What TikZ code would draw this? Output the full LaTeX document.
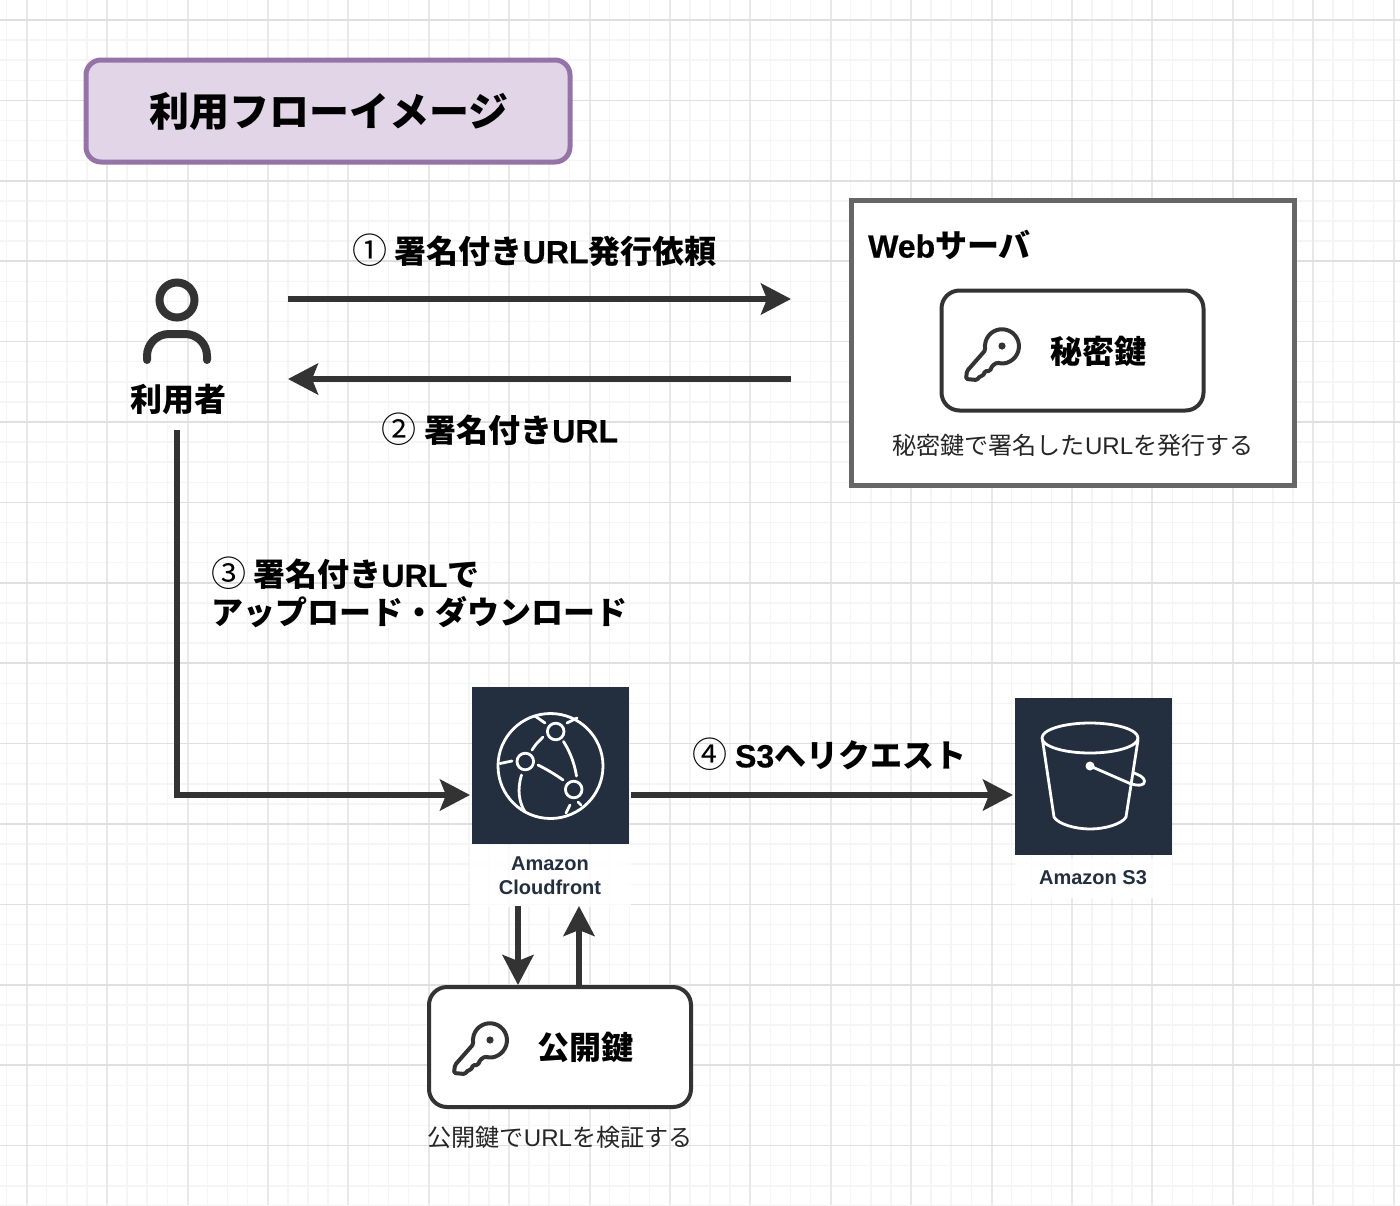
\documentclass[tikz,border=0pt]{standalone}
\usepackage{fontspec}
\setmainfont{Noto Sans CJK JP}
\newfontfamily\latinfont{Liberation Sans}
\newfontfamily\latinheavy[BoldFeatures={FakeBold=0.6}]{Liberation Sans}
\usetikzlibrary{arrows.meta}
\definecolor{lineblack}{HTML}{333333}
\definecolor{awsnavy}{HTML}{232F3E}
\definecolor{titlefill}{HTML}{E1D5E7}
\definecolor{titleline}{HTML}{9673A6}
\newcommand{\jpsize}[1]{\fontsize{#1}{#1}\selectfont}
\newcommand{\lat}[1]{{\latinheavy #1}}
\newcommand{\circnum}[1]{{\fontsize{35}{32}\selectfont\mdseries #1}}
\tikzset{
	flow/.style={draw=lineblack, line width=5.5pt, -{Stealth[length=30pt, width=31pt, inset=6pt]}},
	keybox/.style={draw=lineblack, line width=4pt, fill=white, rounded corners=18pt, minimum width=262pt, minimum height=120pt},
	bigtext/.style={font=\jpsize{32}\bfseries, text=black, inner sep=0pt},
	smalltext/.style={font=\jpsize{24.1}, text=black!85, inner sep=0pt},
	awstext/.style={font=\latinfont\jpsize{20}\bfseries, text=awsnavy, align=center, fill=white, fill opacity=0.85, text opacity=1, inner sep=0pt},
	iconline/.style={draw=white, line width=2.8pt, line cap=round, line join=round},
	keyicon/.pic={
		\begin{scope}[x=1pt, y=1pt, draw=lineblack, line width=4pt, line join=round]
			\draw[rounded corners=1.5pt] (-5,-16.5) arc[start angle=-107, end angle=193, radius=17pt] -- (-35,-25) -- (-36,-33) -- (-25,-34) -- (-22,-30) -- (-19,-30) -- (-17,-25) -- (-12,-25) -- (-10,-20) -- cycle;
			\fill[lineblack] (0,0) circle (3.6pt);
		\end{scope}
	},
}
\begin{document}
\begin{tikzpicture}[x=1pt, y=-1pt]
	\useasboundingbox (0,0) rectangle (1400,1205);
	\fill[white] (0,0) rectangle (1400,1205);
	% grid
	\foreach \i in {0,...,69} {
		\draw[draw=black!4, line width=1.5pt] ({6.5+20.1*\i},0) -- ({6.5+20.1*\i},1205);
	}
	\foreach \i in {0,...,59} {
		\draw[draw=black!4, line width=1.5pt] (0,{20+20.1*\i}) -- (1400,{20+20.1*\i});
	}
	\foreach \i in {0,...,17} {
		\draw[draw=black!9, line width=2pt] ({26.7+80.4*\i},0) -- ({26.7+80.4*\i},1205);
	}
	\foreach \i in {0,...,14} {
		\draw[draw=black!12, line width=1.6pt] (0,{20+80.4*\i}) -- (1400,{20+80.4*\i});
	}

	\node[draw=titleline, line width=5pt, fill=titlefill, rounded corners=15pt, minimum width=484pt, minimum height=102pt, inner sep=0pt] (title) at (328,111) {\hspace*{2pt}\jpsize{40}\bfseries 利用フローイメージ};

	% user
	\draw[draw=lineblack, line width=8pt] (177,300) circle (17.5pt);
	\draw[draw=lineblack, line width=8pt, line cap=round, rounded corners=22pt] (147,360) -- (147,334) -- (207,334) -- (207,360);
	\node[bigtext] (user) at (178,399) {利用者};

	% web server
	\node[draw=black!60, line width=5pt, fill=white, minimum width=443pt, minimum height=285pt] (webserver) at (1072.5,343) {};
	\node[bigtext, anchor=west] (webtitle) at (868,245) {\lat{Web}サーバ};
	\node[keybox] (secretbox) at (1072.5,350.5) {};
	\pic at (1002,346) {keyicon};
	\node[bigtext] (secretkey) at (1098,351) {秘密鍵};
	\node[smalltext] (secretnote) at (1073,445) {秘密鍵で署名した\lat{URL}を発行する};

	% cloudfront
	\node[draw=none, fill=awsnavy, minimum size=157pt, inner sep=0pt] (cloudfront) at (550.5,765.5) {};
	\node[awstext, minimum width=161pt, minimum height=62pt] (cloudfrontlabel) at (550,875.5) {Amazon\\[4pt]Cloudfront};
	\draw[iconline] (550.5,766) circle (52.5pt);
	\draw[iconline] (555.7,731.5) circle (8.3pt);
	\draw[iconline] (525.3,761.5) circle (8.3pt);
	\draw[iconline] (573.7,789.5) circle (8.3pt);
	\draw[iconline] (532,750) .. controls (536,744) .. (543,737);
	\draw[iconline] (563.5,741.5) .. controls (572,755) and (575,767) .. (576.5,776);
	\draw[iconline] (538,765) .. controls (548,770) and (556,775) .. (563,780);
	\draw[iconline] (500,763.5) -- (512,761);
	\draw[iconline] (535,716) -- (545,723);
	\draw[iconline] (567,723) -- (577,718);
	\draw[iconline] (521.5,775) .. controls (517,790) and (519,802) .. (525,812);
	\draw[iconline] (570,805) -- (566,813);
	\draw[iconline] (578,802) -- (581,805);

	% s3
	\node[draw=none, fill=awsnavy, minimum size=157pt, inner sep=0pt] (s3) at (1093.5,776) {};
	\node[awstext, minimum width=157pt, minimum height=40pt] (s3label) at (1093,877.5) {Amazon S3};
	\draw[iconline] (1090,738) ellipse (48pt and 15pt);
	\draw[iconline] (1042.5,740) -- (1054,817) .. controls (1058,824) and (1075,829) .. (1090,829) .. controls (1105,829) and (1122,824) .. (1126,817) -- (1138,740);
	\draw[iconline] (1090,766) -- (1130,783.5) .. controls (1138,786) and (1145,786) .. (1144.5,781) .. controls (1144,777) and (1139,775) .. (1134,773);
	\fill[white] (1090,766) circle (4.5pt);

	% public key
	\node[keybox] (publicbox) at (560,1047) {};
	\pic at (490,1040) {keyicon};
	\node[bigtext] (publickey) at (585,1047) {公開鍵};
	\node[smalltext] (publicnote) at (560,1137) {公開鍵で\lat{URL}を検証する};

	% flow labels
	\node[bigtext] (reqlabel) at (534.5,250) {\circnum{①} 署名付き\lat{URL}発行依頼};
	\node[bigtext] (urllabel) at (500,429) {\circnum{②} 署名付き\lat{URL}};
	\node[bigtext, align=left, anchor=north west] (uselabel) at (211,557) {\circnum{③} 署名付き\lat{URL}で\\[6pt]アップロード・ダウンロード};
	\node[bigtext] (s3reqlabel) at (829.5,754) {\circnum{④} \lat{S3}へリクエスト};

	% connector ends
	\coordinate (reqstart) at (288,299);
	\coordinate (reqend) at (791,299);
	\coordinate (urlstart) at (791,379);
	\coordinate (urlend) at (288,379);
	\coordinate (usebelow) at (177,430);
	\coordinate (cfin) at (470,795);
	\coordinate (cfout) at (631,795);
	\coordinate (s3in) at (1013,795);
	\coordinate (cfdown) at (518,906);
	\coordinate (pubin) at (518,985);
	\coordinate (pubout) at (579,985);
	\coordinate (cfup) at (579,906);

	\draw[flow] (reqstart) -- (reqend);
	\draw[flow] (urlstart) -- (urlend);
	\draw[flow] (usebelow) |- (cfin);
	\draw[flow] (cfout) -- (s3in);
	\draw[flow] (cfdown) -- (pubin);
	\draw[flow] (pubout) -- (cfup);
\end{tikzpicture}
\end{document}
